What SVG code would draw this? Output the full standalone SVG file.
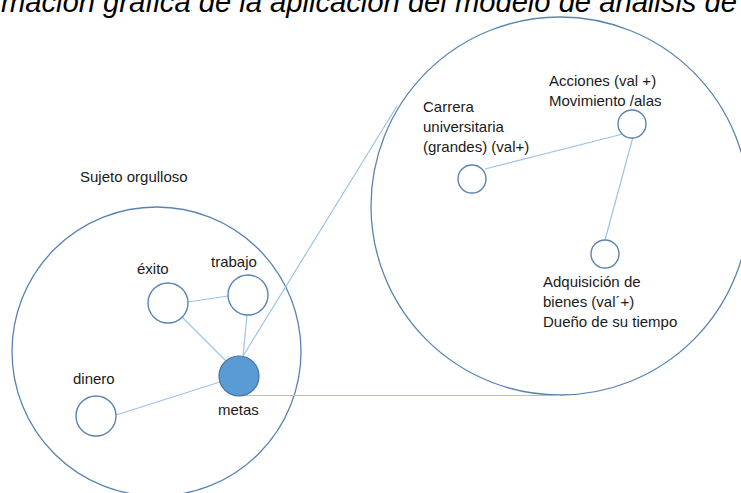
<svg xmlns="http://www.w3.org/2000/svg" width="741" height="493" viewBox="0 0 741 493">
<style>
.big{fill:none;stroke:#5a84b0;stroke-width:1.3}
.node{fill:#fff;stroke:#5a84b0;stroke-width:1.4}
.fill{fill:#5b9bd5;stroke:#41719c;stroke-width:1.2}
.con{stroke:#9dc3e6;stroke-width:1.2;fill:none}
.lbl{font-family:"Liberation Sans",Arial,sans-serif;font-size:15px;fill:#1a1a1a}
.title{font-family:"Liberation Sans",Arial,sans-serif;font-size:29px;font-style:italic;fill:#000}
</style>
<rect width="741" height="493" fill="#fff"/>
<text class="title" x="1" y="12" textLength="736" lengthAdjust="spacingAndGlyphs">mación gráfica de la aplicación del modelo de análisis de</text>
<g id="sujeto">
<circle class="big" cx="156.5" cy="351.5" r="144.5"/>
<text class="lbl" x="80" y="182">Sujeto orgulloso</text>
</g>
<g id="zoom-circle">
<circle class="big" cx="560" cy="206" r="189"/>
</g>
<g id="connectors">
<line class="con" x1="188" y1="302" x2="228" y2="296"/>
<line class="con" x1="182" y1="317" x2="226" y2="361"/>
<line class="con" x1="247" y1="315" x2="243" y2="356"/>
<line class="con" x1="220" y1="382" x2="116" y2="415"/>
<line class="con" x1="243" y1="356" x2="397" y2="106"/>
<line class="con" x1="239" y1="395.5" x2="560" y2="395.5"/>
<line class="con" x1="485" y1="169" x2="623" y2="134"/>
<line class="con" x1="633" y1="137" x2="605" y2="240"/>
</g>
<g id="exito">
<circle class="node" cx="168" cy="303" r="20"/>
<text class="lbl" x="137" y="274">éxito</text>
</g>
<g id="trabajo">
<circle class="node" cx="248" cy="295" r="20"/>
<text class="lbl" x="211" y="267">trabajo</text>
</g>
<g id="metas">
<circle class="fill" cx="239" cy="376" r="20"/>
<text class="lbl" x="218" y="415">metas</text>
</g>
<g id="dinero">
<circle class="node" cx="96" cy="416" r="20"/>
<text class="lbl" x="73" y="384">dinero</text>
</g>
<g id="carrera">
<circle class="node" cx="472" cy="179" r="14"/>
<text class="lbl" x="423" y="112">Carrera</text>
<text class="lbl" x="423" y="132">universitaria</text>
<text class="lbl" x="423" y="152">(grandes) (val+)</text>
</g>
<g id="acciones">
<circle class="node" cx="632" cy="124" r="14"/>
<text class="lbl" x="549" y="86">Acciones (val +)</text>
<text class="lbl" x="549" y="106">Movimiento /alas</text>
</g>
<g id="adquisicion">
<circle class="node" cx="605" cy="254" r="14"/>
<text class="lbl" x="543" y="287">Adquisición de</text>
<text class="lbl" x="543" y="307">bienes (val´+)</text>
<text class="lbl" x="543" y="327">Dueño de su tiempo</text>
</g>
</svg>
